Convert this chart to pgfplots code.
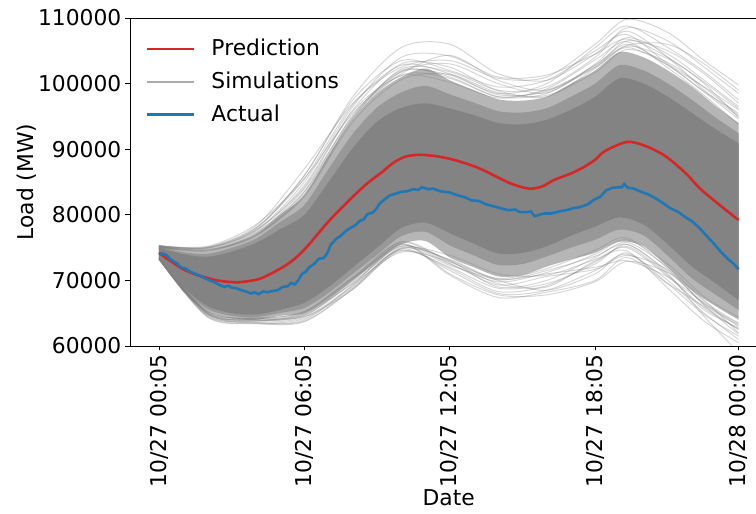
\documentclass[border=0pt]{standalone}
\usepackage{fontspec}
\setmainfont{DejaVu Sans}
\usepackage{pgfplots}
\pgfplotsset{compat=1.18}
\usepgfplotslibrary{fillbetween}
\definecolor{cred}{HTML}{D62728}
\definecolor{cblue}{HTML}{1F77B4}
\definecolor{simline}{HTML}{808080}
\definecolor{medband}{HTML}{B6B6B6}
\definecolor{innband}{HTML}{989898}
\definecolor{coreband}{HTML}{838383}
\definecolor{legsim}{HTML}{ABABAB}
\newcommand{\bigf}{\fontsize{21.8}{26}\selectfont}
\pgfplotsset{sim/.style={simline, opacity=0.32, line width=1pt, smooth, forget plot}}
\begin{document}
\bigf
\begin{tikzpicture}
\begin{axis}[name=ax, scale only axis, width=637.5pt, height=328pt,
  xmin=-1.196, xmax=25.113, ymin=60000, ymax=110000,
  axis x line*=box, axis y line*=left,
  xtick pos=left, ytick pos=left,
  xtick={0,6,12,18,23.917},
  xticklabels={10/27 00:05,10/27 06:05,10/27 12:05,10/27 18:05,10/28 00:00},
  ytick={60000,70000,80000,90000,100000,110000},
  yticklabels={60000,70000,80000,90000,100000,110000},
  scaled y ticks=false,
  tick align=outside, major tick length=4.5pt,
  tick style={black, line width=0.9pt},
  axis line style={line width=0.9pt},
  tick label style={font=\bigf},
  xticklabel style={rotate=90, anchor=east, inner sep=0pt},
  yticklabel style={inner sep=0pt},
  xticklabel shift=4pt, yticklabel shift=4pt,
  xlabel={Date}, ylabel={Load (MW)},
  label style={font=\bigf},
  every axis x label/.style={at={(axis description cs:0.5,-0.4634)}, anchor=center},
  every axis y label/.style={at={(axis description cs:-0.1616,0.5)}, rotate=90, anchor=center},
  legend style={draw=none, fill=none, at={(axis description cs:0,1)}, anchor=north west,
    font=\bigf, row sep=9pt, xshift=13pt, yshift=-17pt},
  legend cell align=left,
  legend image code/.code={\draw[#1, line width=2.6pt] (0pt,0pt) -- (47pt,0pt); \path[draw=none, fill=none] (0pt,0pt) -- (62pt,0pt);},
]
% ---- density bands of the simulations ----
\addplot[draw=none, name path=MT, smooth, forget plot] coordinates {
(0,75300)(1,74600)(2,74500)(3,75500)(4,77000)(5,80000)(6,83000)(7,89000)(8,94500)(9,98500)(10,101000)(11,102300)(12,100500)(13,99000)(14,97600)(15,97400)(16,98000)(17,100000)(18,102000)(19,104800)(20,104000)(21,102000)(22,99500)(23,96500)(23.917,94000)};
\addplot[draw=none, name path=MB, smooth, forget plot] coordinates {
(0,73200)(1,68300)(2,65200)(3,64200)(4,64000)(5,64600)(6,65000)(7,67200)(8,70000)(9,72800)(10,75500)(11,76000)(12,73500)(13,72000)(14,70600)(15,70800)(16,72100)(17,73200)(18,74200)(19,75900)(20,75200)(21,72000)(22,68500)(23,66000)(23.917,64000)};
\addplot[medband, forget plot] fill between[of=MT and MB];
\addplot[draw=none, name path=IT, smooth, forget plot] coordinates {
(0,75150)(1,74300)(2,74050)(3,74950)(4,76350)(5,78900)(6,81500)(7,87000)(8,92350)(9,96350)(10,98650)(11,99650)(12,98350)(13,97100)(14,95800)(15,95600)(16,96250)(17,98000)(18,100000)(19,102800)(20,102000)(21,100000)(22,97500)(23,94750)(23.917,92450)};
\addplot[draw=none, name path=IB, smooth, forget plot] coordinates {
(0,73300)(1,68650)(2,65650)(3,64600)(4,64400)(5,65050)(6,65800)(7,68100)(8,71000)(9,73900)(10,76750)(11,77400)(12,75350)(13,73800)(14,72350)(15,72500)(16,73650)(17,75000)(18,76200)(19,77750)(20,76850)(21,73750)(22,70300)(23,67750)(23.917,65500)};
\addplot[innband, forget plot] fill between[of=IT and IB];
\addplot[draw=none, name path=CT, smooth, forget plot] coordinates {
(0,75000)(1,74000)(2,73600)(3,74400)(4,75700)(5,77800)(6,80000)(7,85000)(8,90200)(9,94200)(10,96300)(11,97000)(12,96200)(13,95200)(14,94000)(15,93800)(16,94500)(17,96000)(18,98000)(19,100800)(20,100000)(21,98000)(22,95500)(23,93000)(23.917,90900)};
\addplot[draw=none, name path=CB, smooth, forget plot] coordinates {
(0,73400)(1,69000)(2,66100)(3,65000)(4,64800)(5,65500)(6,66600)(7,69000)(8,72000)(9,75000)(10,78000)(11,78800)(12,77200)(13,75600)(14,74100)(15,74200)(16,75200)(17,76800)(18,78200)(19,79600)(20,78500)(21,75500)(22,72100)(23,69500)(23.917,67000)};
\addplot[coreband, forget plot] fill between[of=CT and CB];
% ---- outer simulations (upper) ----
\addplot[sim] coordinates {(0,75300)(2,75000)(4,78000)(6,86000)(8,98000)(10,105500)(12,106000)(14,101500)(16,100500)(18,104500)(19.3,108000)(21,104000)(22.5,99000)(23.917,95000)};
\addplot[sim] coordinates {(0,75200)(2,75100)(4,78300)(6,87000)(8,97000)(10,102500)(12,103500)(14,100800)(16,101000)(18,106000)(19.3,109800)(21,107800)(22.5,103500)(23.917,99800)};
\addplot[sim] coordinates {(0,75100)(2,74800)(4,77500)(6,84500)(8,96000)(10,103000)(12,102500)(14,99000)(16,99500)(18,104000)(19.3,108500)(21,106500)(22.5,102500)(23.917,98500)};
\addplot[sim] coordinates {(0,75300)(2,75200)(4,78500)(6,85500)(8,95500)(10,101500)(12,104300)(14,100500)(16,99000)(18,102500)(19.3,106500)(21,105000)(22.5,101500)(23.917,97000)};
\addplot[sim] coordinates {(0,75000)(2,74600)(4,77200)(6,84000)(8,95000)(10,102000)(12,101000)(14,98000)(16,98500)(18,103000)(19.3,107000)(21,104500)(22.5,100500)(23.917,96500)};
\addplot[sim] coordinates {(0,75200)(2,74900)(4,77800)(6,86000)(8,97500)(10,103500)(12,102000)(14,99500)(16,100500)(18,105000)(19.3,107500)(21,103000)(22.5,99500)(23.917,96000)};
\addplot[sim] coordinates {(0,75100)(2,74700)(4,77000)(6,83500)(8,94800)(10,101800)(12,103000)(14,100000)(16,98600)(18,102800)(19.3,105800)(21,106000)(22.5,103000)(23.917,99000)};
\addplot[sim] coordinates {(0,75300)(2,75000)(4,77600)(6,85000)(8,96500)(10,104000)(12,104200)(14,101000)(16,101300)(18,104500)(19.3,106800)(21,104000)(22.5,100000)(23.917,94800)};
\addplot[sim] coordinates {(0,75000)(2,74600)(4,76800)(6,83200)(8,94600)(10,101300)(12,100800)(14,98000)(16,99000)(18,102500)(19.3,105500)(21,102800)(22.5,98800)(23.917,95500)};
\addplot[sim] coordinates {(0,75200)(2,75000)(4,78000)(6,85500)(8,96800)(10,102800)(12,101500)(14,98500)(16,100000)(18,105500)(19.3,108800)(21,105500)(22.5,101800)(23.917,97500)};
\addplot[sim] coordinates {(0,75200)(2,74700)(4,77300)(6,83600)(8,95200)(10,101800)(12,101300)(14,98300)(16,98800)(18,102800)(19.3,106000)(21,102800)(22.5,98700)(23.917,94600)};
\addplot[sim] coordinates {(0,75100)(2,74500)(4,76900)(6,82800)(8,94200)(10,100600)(12,101400)(14,98600)(16,98200)(18,101700)(19.3,105200)(21,103200)(22.5,99400)(23.917,95200)};
\addplot[sim] coordinates {(0,75300)(2,74900)(4,77700)(6,84200)(8,95800)(10,101200)(12,100200)(14,97800)(16,99200)(18,103600)(19.3,106400)(21,102400)(22.5,98200)(23.917,93800)};
\addplot[sim] coordinates {(0,75200)(2,74600)(4,77100)(6,83000)(8,94700)(10,102200)(12,101800)(14,98900)(16,98000)(18,102300)(19.3,105700)(21,103800)(22.5,100200)(23.917,96200)};
% ---- outer simulations (lower) ----
\addplot[sim] coordinates {(0,73300)(2,64500)(4,63500)(6,64200)(8,69000)(10,74800)(12,71500)(14,68000)(16,68500)(18,71500)(19.3,74000)(21,70000)(22.5,65000)(23.917,61000)};
\addplot[sim] coordinates {(0,73200)(2,64700)(4,63600)(6,63800)(8,68800)(10,74500)(12,72000)(14,68800)(16,69500)(18,72500)(19.3,75500)(21,71000)(22.5,64500)(23.917,59000)};
\addplot[sim] coordinates {(0,73400)(2,65000)(4,64000)(6,64800)(8,70000)(10,75500)(12,70800)(14,67400)(16,68200)(18,70000)(19.3,73500)(21,69500)(22.5,66000)(23.917,62500)};
\addplot[sim] coordinates {(0,73300)(2,64600)(4,63800)(6,65000)(8,69500)(10,74300)(12,72800)(14,69500)(16,69000)(18,73000)(19.3,74500)(21,68800)(22.5,63800)(23.917,60500)};
\addplot[sim] coordinates {(0,73400)(2,65100)(4,64200)(6,64500)(8,68600)(10,74800)(12,73200)(14,70200)(16,71000)(18,72000)(19.3,73000)(21,70500)(22.5,66500)(23.917,63000)};
\addplot[sim] coordinates {(0,73200)(2,64900)(4,63500)(6,64000)(8,69300)(10,75600)(12,71000)(14,67800)(16,67800)(18,69800)(19.3,72900)(21,71200)(22.5,67000)(23.917,62000)};
\addplot[sim] coordinates {(0,73300)(2,65200)(4,64300)(6,65200)(8,70300)(10,75200)(12,73000)(14,69000)(16,70000)(18,73500)(19.3,75800)(21,72000)(22.5,66800)(23.917,63500)};
\addplot[sim] coordinates {(0,73400)(2,64400)(4,63400)(6,63700)(8,68700)(10,75000)(12,72300)(14,70000)(16,68500)(18,71000)(19.3,74200)(21,69500)(22.5,64800)(23.917,61500)};
\addplot[sim] coordinates {(0,73300)(2,65000)(4,63900)(6,64600)(8,69800)(10,74600)(12,71800)(14,68300)(16,69200)(18,72800)(19.3,75200)(21,70800)(22.5,65500)(23.917,62800)};
\addplot[sim] coordinates {(0,73200)(2,64800)(4,64100)(6,65100)(8,70500)(10,75800)(12,72600)(14,69300)(16,70600)(18,71700)(19.3,73800)(21,71600)(22.5,66200)(23.917,61800)};
\addplot[sim] coordinates {(0,73300)(2,65000)(4,63900)(6,64700)(8,69600)(10,75200)(12,73100)(14,70100)(16,71500)(18,73700)(19.3,75500)(21,71400)(22.5,66500)(23.917,63400)};
\addplot[sim] coordinates {(0,73200)(2,65300)(4,64200)(6,65300)(8,70400)(10,75400)(12,72500)(14,69800)(16,71200)(18,74000)(19.3,76200)(21,72500)(22.5,67500)(23.917,64400)};
\addplot[sim] coordinates {(0,73400)(2,64900)(4,63700)(6,64400)(8,69200)(10,74900)(12,73800)(14,71000)(16,70800)(18,73200)(19.3,75000)(21,70600)(22.5,65800)(23.917,62600)};
\addplot[sim] coordinates {(0,73300)(2,65100)(4,64000)(6,64900)(8,70200)(10,75900)(12,72900)(14,70300)(16,71800)(18,74600)(19.3,76500)(21,71800)(22.5,66300)(23.917,63200)};
% ---- prediction ----
\addplot[cred, line width=2.6pt, smooth, forget plot] coordinates {
(0,74200)(0.5,72900)(1.0,71700)(1.6,70800)(2.4,70000)(3.0,69750)(3.4,69750)(4.2,70300)(5.1,72000)(5.6,73300)(6.1,75100)(7.0,79000)(7.9,82400)(8.6,84800)(9.2,86500)(9.7,88000)(10.2,88900)(10.8,89150)(11.5,88900)(12.2,88350)(13.0,87400)(13.5,86600)(14.5,84800)(15.25,84000)(15.8,84300)(16.3,85300)(17.0,86300)(17.5,87200)(18.0,88400)(18.4,89700)(19.3,91100)(20.0,90600)(20.7,89400)(21.2,88100)(21.8,86100)(22.3,84100)(22.9,82200)(23.917,79200)};
% ---- actual ----
\addplot[cblue, line width=2.6pt, forget plot] coordinates {
(0,74000)(0.15,74100)(0.3,73900)(0.45,73300)(0.6,72900)(0.75,72600)(0.9,72000)(1.1,71800)(1.3,71300)(1.5,71000)(1.7,70700)(1.9,70300)(2.1,70000)(2.3,69700)(2.5,69300)(2.7,69000)(2.85,69200)(3.0,68900)(3.2,68800)(3.4,68500)(3.6,68300)(3.8,68000)(3.95,68200)(4.1,67900)(4.3,68300)(4.5,68200)(4.7,68400)(4.9,68500)(5.1,69000)(5.3,69100)(5.45,69600)(5.6,69400)(5.75,70000)(5.9,71000)(6.05,71300)(6.2,72000)(6.4,72500)(6.6,73300)(6.8,73400)(6.95,74200)(7.1,75500)(7.3,76300)(7.5,76800)(7.7,77500)(7.9,78000)(8.1,78400)(8.3,79100)(8.45,79300)(8.6,80100)(8.8,80300)(8.95,80800)(9.1,81700)(9.3,82300)(9.5,82900)(9.75,83200)(10.0,83500)(10.25,83600)(10.5,83900)(10.7,83800)(10.85,84200)(11.1,83900)(11.3,84000)(11.6,83600)(12.0,83400)(12.3,83000)(12.6,82700)(12.9,82200)(13.2,82100)(13.5,81600)(13.8,81300)(14.1,81000)(14.4,80700)(14.7,80800)(14.9,80400)(15.2,80400)(15.35,80500)(15.5,79800)(15.7,80000)(15.9,80200)(16.2,80200)(16.5,80500)(16.8,80700)(17.1,81000)(17.4,81200)(17.7,81600)(17.95,82300)(18.2,82700)(18.45,83700)(18.7,84100)(18.95,84200)(19.1,84200)(19.2,84700)(19.35,84100)(19.6,84000)(19.9,83500)(20.2,83100)(20.5,82500)(20.8,81800)(21.1,81000)(21.4,80500)(21.7,79700)(22.0,79000)(22.3,78000)(22.6,76800)(22.9,75600)(23.2,74300)(23.5,73200)(23.7,72600)(23.917,71700)};
% ---- legend ----
\addlegendimage{cred}\addlegendentry{Prediction}
\addlegendimage{legsim}\addlegendentry{Simulations}
\addlegendimage{cblue}\addlegendentry{Actual}
\end{axis}
\pgfresetboundingbox
\path ([shift={(-130pt,-168pt)}]ax.south west) rectangle ([shift={(626pt,346pt)}]ax.south west);
\end{tikzpicture}
\end{document}
